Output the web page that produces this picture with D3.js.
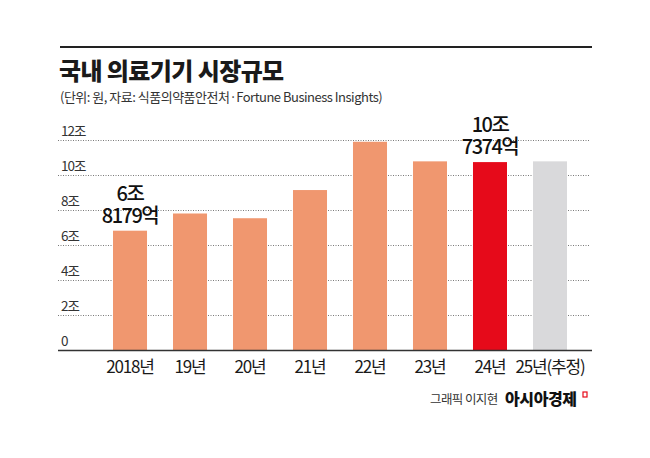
<!DOCTYPE html>
<html>
<head>
  <meta charset="utf-8">
  <title>국내 의료기기 시장규모</title>
  <style>
    body { margin: 0; background: #ffffff; }
    svg { display: block; font-family: "Noto Sans CJK KR", "Noto Sans", sans-serif; }
  </style>
</head>
<body>
  <div id="chart"></div>

  <script src="https://d3js.org/d3.v7.min.js"></script>
  <script>
    // years on the x axis
    var years = ["2018년", "19년", "20년", "21년", "22년", "23년", "24년", "25년(추정)"];
    // market size in 조 원
    var values = [6.8179, 7.8, 7.53, 9.14, 11.9, 10.78, 10.7374, 10.78];
    // y axis ticks and labels
    var tickValues = [0, 2, 4, 6, 8, 10, 12];
    var tickLabels = ["0", "2조", "4조", "6조", "8조", "10조", "12조"];
    // two-line value labels above highlighted bars
    var calloutYears = ["2018년", "24년"];
    var calloutLines = [["6조", "8179억"], ["10조", "7374억"]];

    var width = 650, height = 458;

    var svg = d3.select("#chart")
      .append("svg")
      .attr("width", width)
      .attr("height", height);

    // top rule
    svg.append("line")
      .attr("x1", 60).attr("x2", 592)
      .attr("y1", 47).attr("y2", 47)
      .attr("stroke", "#222").attr("stroke-width", 2);

    // title + source
    svg.append("text")
      .attr("x", 59).attr("y", 80)
      .attr("font-size", 24).attr("font-weight", 900)
      .attr("letter-spacing", -0.6)
      .attr("fill", "#1a1a1a")
      .text("국내 의료기기 시장규모");

    svg.append("text")
      .attr("x", 60).attr("y", 102)
      .attr("font-size", 13)
      .attr("letter-spacing", -0.5)
      .attr("fill", "#333")
      .text("(단위: 원, 자료: 식품의약품안전처·Fortune Business Insights)");

    var x = d3.scaleBand()
      .domain(years)
      .range([100, 580])
      .paddingInner(0.433)
      .paddingOuter(0.2167);

    var y = d3.scaleLinear()
      .domain([0, 12])
      .range([350, 140]);

    // dotted gridlines
    svg.append("g")
      .selectAll("line")
      .data(tickValues.filter(function(d) { return d > 0; }))
      .join("line")
      .attr("x1", 58).attr("x2", 590)
      .attr("y1", function(d) { return y(d) + 0.5; })
      .attr("y2", function(d) { return y(d) + 0.5; })
      .attr("stroke", "#7a7a7a")
      .attr("stroke-width", 1)
      .attr("stroke-dasharray", "1,1.5");

    // tick labels sit above each gridline
    svg.append("g")
      .selectAll("text")
      .data(tickValues)
      .join("text")
      .attr("x", 61)
      .attr("y", function(d) { return y(d) - 4; })
      .attr("font-size", 13.5)
      .attr("letter-spacing", -1)
      .attr("fill", "#333")
      .text(function(d, i) { return tickLabels[i]; });

    // bars
    function barColor(d, i) {
      if (years[i] === "24년") return "#e60a1a";
      if (years[i] === "25년(추정)") return "#d9d9db";
      return "#f0976f";
    }

    svg.append("g")
      .selectAll("rect")
      .data(values)
      .join("rect")
      .attr("x", function(d, i) { return x(years[i]); })
      .attr("y", function(d) { return y(d); })
      .attr("width", x.bandwidth())
      .attr("height", function(d) { return y(0) - y(d); })
      .attr("fill", barColor);

    // baseline
    svg.append("line")
      .attr("x1", 58).attr("x2", 592)
      .attr("y1", 350.5).attr("y2", 350.5)
      .attr("stroke", "#333").attr("stroke-width", 1.5);

    // x axis labels
    var xAxis = d3.axisBottom(x).tickSize(0).tickPadding(0);
    var gx = svg.append("g")
      .attr("transform", "translate(0,359)")
      .call(xAxis);
    gx.select(".domain").remove();
    gx.selectAll("text")
      .attr("font-family", "Noto Sans CJK KR, sans-serif")
      .attr("font-size", 17)
      .attr("letter-spacing", -1.2)
      .attr("fill", "#1a1a1a")
      .attr("dy", "0.85em");

    // callouts
    calloutYears.forEach(function(yr, k) {
      var i = years.indexOf(yr);
      var cx = x(yr) + x.bandwidth() / 2;
      var top = y(values[i]);
      var t = svg.append("text")
        .attr("text-anchor", "middle")
        .attr("font-size", 20)
        .attr("font-weight", 500)
        .attr("letter-spacing", -1.5)
        .attr("fill", "#111");
      t.append("tspan").attr("x", cx).attr("y", top - 30).text(calloutLines[k][0]);
      t.append("tspan").attr("x", cx).attr("y", top - 8).text(calloutLines[k][1]);
    });

    // credit
    svg.append("text")
      .attr("x", 430).attr("y", 404)
      .attr("font-size", 12.5)
      .attr("letter-spacing", -0.6)
      .attr("fill", "#333")
      .text("그래픽 이지현");

    svg.append("text")
      .attr("x", 505).attr("y", 405)
      .attr("font-size", 16)
      .attr("font-weight", 900)
      .attr("letter-spacing", -0.4)
      .attr("fill", "#111")
      .text("아시아경제");

    svg.append("rect")
      .attr("x", 583).attr("y", 392)
      .attr("width", 4).attr("height", 5)
      .attr("fill", "none")
      .attr("stroke", "#e60a1a")
      .attr("stroke-width", 1.2);
  </script>
</body>
</html>
